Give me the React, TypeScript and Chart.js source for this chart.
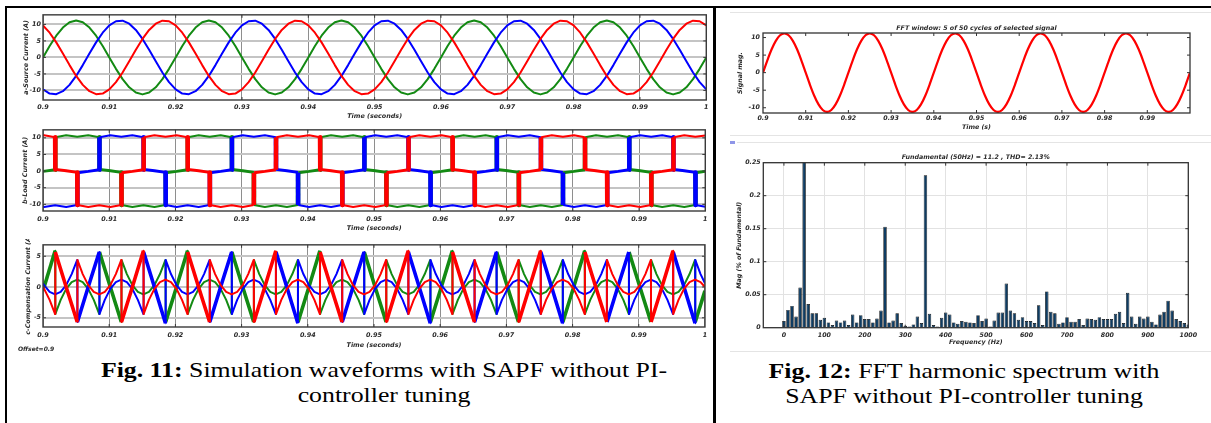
import React, { useEffect, useRef } from 'react';
import { Chart, registerables } from 'chart.js';

Chart.register(...registerables);

// ---------------- data ----------------
// Fig. 11(a) source currents, sampled every 1 ms
const sourceTime = [
  0.9, 0.901, 0.902, 0.903, 0.904, 0.905, 0.906, 0.907, 0.908, 0.909,
  0.91, 0.911, 0.912, 0.913, 0.914, 0.915, 0.916, 0.917, 0.918, 0.919,
  0.92, 0.921, 0.922, 0.923, 0.924, 0.925, 0.926, 0.927, 0.928, 0.929,
  0.93, 0.931, 0.932, 0.933, 0.934, 0.935, 0.936, 0.937, 0.938, 0.939,
  0.94, 0.941, 0.942, 0.943, 0.944, 0.945, 0.946, 0.947, 0.948, 0.949,
  0.95, 0.951, 0.952, 0.953, 0.954, 0.955, 0.956, 0.957, 0.958, 0.959,
  0.96, 0.961, 0.962, 0.963, 0.964, 0.965, 0.966, 0.967, 0.968, 0.969,
  0.97, 0.971, 0.972, 0.973, 0.974, 0.975, 0.976, 0.977, 0.978, 0.979,
  0.98, 0.981, 0.982, 0.983, 0.984, 0.985, 0.986, 0.987, 0.988, 0.989,
  0.99, 0.991, 0.992, 0.993, 0.994, 0.995, 0.996, 0.997, 0.998, 0.999, 1,
];
const sourceGreen = [
  0, 3.46, 6.58, 9.06, 10.65, 11.2, 10.65, 9.06, 6.58, 3.46, 0, -3.46, -6.58, -9.06, -10.65, -11.2, -10.65, -9.06, -6.58, -3.46,
  0, 3.46, 6.58, 9.06, 10.65, 11.2, 10.65, 9.06, 6.58, 3.46, 0, -3.46, -6.58, -9.06, -10.65, -11.2, -10.65, -9.06, -6.58, -3.46,
  0, 3.46, 6.58, 9.06, 10.65, 11.2, 10.65, 9.06, 6.58, 3.46, 0, -3.46, -6.58, -9.06, -10.65, -11.2, -10.65, -9.06, -6.58, -3.46,
  0, 3.46, 6.58, 9.06, 10.65, 11.2, 10.65, 9.06, 6.58, 3.46, 0, -3.46, -6.58, -9.06, -10.65, -11.2, -10.65, -9.06, -6.58, -3.46,
  0, 3.46, 6.58, 9.06, 10.65, 11.2, 10.65, 9.06, 6.58, 3.46, 0, -3.46, -6.58, -9.06, -10.65, -11.2, -10.65, -9.06, -6.58, -3.46,
  0,
];
const sourceBlue = [
  -9.7, -10.96, -11.14, -10.23, -8.32, -5.6, -2.33, 1.17, 4.56, 7.49, 9.7, 10.96, 11.14, 10.23, 8.32, 5.6, 2.33, -1.17, -4.56, -7.49,
  -9.7, -10.96, -11.14, -10.23, -8.32, -5.6, -2.33, 1.17, 4.56, 7.49, 9.7, 10.96, 11.14, 10.23, 8.32, 5.6, 2.33, -1.17, -4.56, -7.49,
  -9.7, -10.96, -11.14, -10.23, -8.32, -5.6, -2.33, 1.17, 4.56, 7.49, 9.7, 10.96, 11.14, 10.23, 8.32, 5.6, 2.33, -1.17, -4.56, -7.49,
  -9.7, -10.96, -11.14, -10.23, -8.32, -5.6, -2.33, 1.17, 4.56, 7.49, 9.7, 10.96, 11.14, 10.23, 8.32, 5.6, 2.33, -1.17, -4.56, -7.49,
  -9.7, -10.96, -11.14, -10.23, -8.32, -5.6, -2.33, 1.17, 4.56, 7.49, 9.7, 10.96, 11.14, 10.23, 8.32, 5.6, 2.33, -1.17, -4.56, -7.49,
  -9.7,
];
const sourceRed = [
  9.7, 7.49, 4.56, 1.17, -2.33, -5.6, -8.32, -10.23, -11.14, -10.96, -9.7, -7.49, -4.56, -1.17, 2.33, 5.6, 8.32, 10.23, 11.14, 10.96,
  9.7, 7.49, 4.56, 1.17, -2.33, -5.6, -8.32, -10.23, -11.14, -10.96, -9.7, -7.49, -4.56, -1.17, 2.33, 5.6, 8.32, 10.23, 11.14, 10.96,
  9.7, 7.49, 4.56, 1.17, -2.33, -5.6, -8.32, -10.23, -11.14, -10.96, -9.7, -7.49, -4.56, -1.17, 2.33, 5.6, 8.32, 10.23, 11.14, 10.96,
  9.7, 7.49, 4.56, 1.17, -2.33, -5.6, -8.32, -10.23, -11.14, -10.96, -9.7, -7.49, -4.56, -1.17, 2.33, 5.6, 8.32, 10.23, 11.14, 10.96,
  9.7, 7.49, 4.56, 1.17, -2.33, -5.6, -8.32, -10.23, -11.14, -10.96, -9.7, -7.49, -4.56, -1.17, 2.33, 5.6, 8.32, 10.23, 11.14, 10.96,
  9.7,
];

// Fig. 11(b) load currents  [time, current]
const loadRed: [number, number][] = [
  [0.9, 10.7], [0.90017, 10.8], [0.90183, 10.2], [0.90186, 0.5], [0.9035, 0.1], [0.90517, -0.4],
  [0.9052, -10.2], [0.90683, -10.8], [0.9085, -10.3], [0.91017, -10.8], [0.91183, -10.2], [0.91186, -0.5], [0.9135, -0.1], [0.91517, 0.4],
  [0.9152, 10.2], [0.91683, 10.8], [0.9185, 10.3], [0.92017, 10.8], [0.92183, 10.2], [0.92186, 0.5], [0.9235, 0.1], [0.92517, -0.4],
  [0.9252, -10.2], [0.92683, -10.8], [0.9285, -10.3], [0.93017, -10.8], [0.93183, -10.2], [0.93186, -0.5], [0.9335, -0.1], [0.93517, 0.4],
  [0.9352, 10.2], [0.93683, 10.8], [0.9385, 10.3], [0.94017, 10.8], [0.94183, 10.2], [0.94186, 0.5], [0.9435, 0.1], [0.94517, -0.4],
  [0.9452, -10.2], [0.94683, -10.8], [0.9485, -10.3], [0.95017, -10.8], [0.95183, -10.2], [0.95186, -0.5], [0.9535, -0.1], [0.95517, 0.4],
  [0.9552, 10.2], [0.95683, 10.8], [0.9585, 10.3], [0.96017, 10.8], [0.96183, 10.2], [0.96186, 0.5], [0.9635, 0.1], [0.96517, -0.4],
  [0.9652, -10.2], [0.96683, -10.8], [0.9685, -10.3], [0.97017, -10.8], [0.97183, -10.2], [0.97186, -0.5], [0.9735, -0.1], [0.97517, 0.4],
  [0.9752, 10.2], [0.97683, 10.8], [0.9785, 10.3], [0.98017, 10.8], [0.98183, 10.2], [0.98186, 0.5], [0.9835, 0.1], [0.98517, -0.4],
  [0.9852, -10.2], [0.98683, -10.8], [0.9885, -10.3], [0.99017, -10.8], [0.99183, -10.2], [0.99186, -0.5], [0.9935, -0.1], [0.99517, 0.4],
  [0.9952, 10.2], [0.99683, 10.8], [0.9985, 10.3], [1, 10.7],
];
const loadGreen: [number, number][] = [
  [0.9, -0.1], [0.90183, 0.4],
  [0.90186, 10.2], [0.9035, 10.8], [0.90517, 10.3], [0.90683, 10.8], [0.9085, 10.2], [0.90853, 0.5], [0.91017, 0.1], [0.91183, -0.4],
  [0.91186, -10.2], [0.9135, -10.8], [0.91517, -10.3], [0.91683, -10.8], [0.9185, -10.2], [0.91853, -0.5], [0.92017, -0.1], [0.92183, 0.4],
  [0.92186, 10.2], [0.9235, 10.8], [0.92517, 10.3], [0.92683, 10.8], [0.9285, 10.2], [0.92853, 0.5], [0.93017, 0.1], [0.93183, -0.4],
  [0.93186, -10.2], [0.9335, -10.8], [0.93517, -10.3], [0.93683, -10.8], [0.9385, -10.2], [0.93853, -0.5], [0.94017, -0.1], [0.94183, 0.4],
  [0.94186, 10.2], [0.9435, 10.8], [0.94517, 10.3], [0.94683, 10.8], [0.9485, 10.2], [0.94853, 0.5], [0.95017, 0.1], [0.95183, -0.4],
  [0.95186, -10.2], [0.9535, -10.8], [0.95517, -10.3], [0.95683, -10.8], [0.9585, -10.2], [0.95853, -0.5], [0.96017, -0.1], [0.96183, 0.4],
  [0.96186, 10.2], [0.9635, 10.8], [0.96517, 10.3], [0.96683, 10.8], [0.9685, 10.2], [0.96853, 0.5], [0.97017, 0.1], [0.97183, -0.4],
  [0.97186, -10.2], [0.9735, -10.8], [0.97517, -10.3], [0.97683, -10.8], [0.9785, -10.2], [0.97853, -0.5], [0.98017, -0.1], [0.98183, 0.4],
  [0.98186, 10.2], [0.9835, 10.8], [0.98517, 10.3], [0.98683, 10.8], [0.9885, 10.2], [0.98853, 0.5], [0.99017, 0.1], [0.99183, -0.4],
  [0.99186, -10.2], [0.9935, -10.8], [0.99517, -10.3], [0.99683, -10.8], [0.9985, -10.2], [0.99853, -0.5], [1, -0.1],
];
const loadBlue: [number, number][] = [
  [0.9, -10.7], [0.90017, -10.8], [0.90183, -10.3], [0.9035, -10.8], [0.90517, -10.2], [0.9052, -0.5], [0.90683, -0.1], [0.9085, 0.4],
  [0.90853, 10.2], [0.91017, 10.8], [0.91183, 10.3], [0.9135, 10.8], [0.91517, 10.2], [0.9152, 0.5], [0.91683, 0.1], [0.9185, -0.4],
  [0.91853, -10.2], [0.92017, -10.8], [0.92183, -10.3], [0.9235, -10.8], [0.92517, -10.2], [0.9252, -0.5], [0.92683, -0.1], [0.9285, 0.4],
  [0.92853, 10.2], [0.93017, 10.8], [0.93183, 10.3], [0.9335, 10.8], [0.93517, 10.2], [0.9352, 0.5], [0.93683, 0.1], [0.9385, -0.4],
  [0.93853, -10.2], [0.94017, -10.8], [0.94183, -10.3], [0.9435, -10.8], [0.94517, -10.2], [0.9452, -0.5], [0.94683, -0.1], [0.9485, 0.4],
  [0.94853, 10.2], [0.95017, 10.8], [0.95183, 10.3], [0.9535, 10.8], [0.95517, 10.2], [0.9552, 0.5], [0.95683, 0.1], [0.9585, -0.4],
  [0.95853, -10.2], [0.96017, -10.8], [0.96183, -10.3], [0.9635, -10.8], [0.96517, -10.2], [0.9652, -0.5], [0.96683, -0.1], [0.9685, 0.4],
  [0.96853, 10.2], [0.97017, 10.8], [0.97183, 10.3], [0.9735, 10.8], [0.97517, 10.2], [0.9752, 0.5], [0.97683, 0.1], [0.9785, -0.4],
  [0.97853, -10.2], [0.98017, -10.8], [0.98183, -10.3], [0.9835, -10.8], [0.98517, -10.2], [0.9852, -0.5], [0.98683, -0.1], [0.9885, 0.4],
  [0.98853, 10.2], [0.99017, 10.8], [0.99183, 10.3], [0.9935, 10.8], [0.99517, 10.2], [0.9952, 0.5], [0.99683, 0.1], [0.9985, -0.4],
  [0.99853, -10.2], [1, -10.7],
];

// Fig. 11(c) compensation currents  [time, current]
const compRed: [number, number][] = [
  [0.9, 0], [0.90017, -0.3], [0.901, -2.1],
  [0.90183, -4.4], [0.90186, 5.7], [0.9035, 0], [0.90517, -5.7], [0.9052, 4.4], [0.906, 2.1], [0.90683, 0.3], [0.90767, -0.8], [0.9085, -1.2], [0.90933, -0.8], [0.91017, 0.3], [0.911, 2.1], [0.91183, 4.4], [0.91186, -5.7], [0.9135, 0], [0.91517, 5.9], [0.9152, -4.4], [0.916, -2.1], [0.91683, -0.3], [0.91767, 0.8], [0.9185, 1.2], [0.91933, 0.8], [0.92017, -0.3], [0.921, -2.1],
  [0.92183, -4.4], [0.92186, 5.7], [0.9235, 0], [0.92517, -5.7], [0.9252, 4.4], [0.926, 2.1], [0.92683, 0.3], [0.92767, -0.8], [0.9285, -1.2], [0.92933, -0.8], [0.93017, 0.3], [0.931, 2.1], [0.93183, 4.4], [0.93186, -5.7], [0.9335, 0], [0.93517, 5.9], [0.9352, -4.4], [0.936, -2.1], [0.93683, -0.3], [0.93767, 0.8], [0.9385, 1.2], [0.93933, 0.8], [0.94017, -0.3], [0.941, -2.1],
  [0.94183, -4.4], [0.94186, 5.7], [0.9435, 0], [0.94517, -5.7], [0.9452, 4.4], [0.946, 2.1], [0.94683, 0.3], [0.94767, -0.8], [0.9485, -1.2], [0.94933, -0.8], [0.95017, 0.3], [0.951, 2.1], [0.95183, 4.4], [0.95186, -5.7], [0.9535, 0], [0.95517, 5.9], [0.9552, -4.4], [0.956, -2.1], [0.95683, -0.3], [0.95767, 0.8], [0.9585, 1.2], [0.95933, 0.8], [0.96017, -0.3], [0.961, -2.1],
  [0.96183, -4.4], [0.96186, 5.7], [0.9635, 0], [0.96517, -5.7], [0.9652, 4.4], [0.966, 2.1], [0.96683, 0.3], [0.96767, -0.8], [0.9685, -1.2], [0.96933, -0.8], [0.97017, 0.3], [0.971, 2.1], [0.97183, 4.4], [0.97186, -5.7], [0.9735, 0], [0.97517, 5.9], [0.9752, -4.4], [0.976, -2.1], [0.97683, -0.3], [0.97767, 0.8], [0.9785, 1.2], [0.97933, 0.8], [0.98017, -0.3], [0.981, -2.1],
  [0.98183, -4.4], [0.98186, 5.7], [0.9835, 0], [0.98517, -5.7], [0.9852, 4.4], [0.986, 2.1], [0.98683, 0.3], [0.98767, -0.8], [0.9885, -1.2], [0.98933, -0.8], [0.99017, 0.3], [0.991, 2.1], [0.99183, 4.4], [0.99186, -5.7], [0.9935, 0], [0.99517, 5.9], [0.9952, -4.4], [0.996, -2.1], [0.99683, -0.3], [0.99767, 0.8], [0.9985, 1.2], [0.99933, 0.8], [1, 0],
];
const compGreen: [number, number][] = [
  [0.9, -0.6], [0.90017, 0],
  [0.90183, 5.9], [0.90186, -4.4], [0.90267, -2.1], [0.9035, -0.3], [0.90433, 0.8], [0.90517, 1.2], [0.906, 0.8], [0.90683, -0.3], [0.90767, -2.1], [0.9085, -4.4], [0.90853, 5.7], [0.91017, 0], [0.91183, -5.7], [0.91186, 4.4], [0.91267, 2.1], [0.9135, 0.3], [0.91433, -0.8], [0.91517, -1.2], [0.916, -0.8], [0.91683, 0.3], [0.91767, 2.1], [0.9185, 4.4], [0.91853, -5.7], [0.92017, 0],
  [0.92183, 5.9], [0.92186, -4.4], [0.92267, -2.1], [0.9235, -0.3], [0.92433, 0.8], [0.92517, 1.2], [0.926, 0.8], [0.92683, -0.3], [0.92767, -2.1], [0.9285, -4.4], [0.92853, 5.7], [0.93017, 0], [0.93183, -5.7], [0.93186, 4.4], [0.93267, 2.1], [0.9335, 0.3], [0.93433, -0.8], [0.93517, -1.2], [0.936, -0.8], [0.93683, 0.3], [0.93767, 2.1], [0.9385, 4.4], [0.93853, -5.7], [0.94017, 0],
  [0.94183, 5.9], [0.94186, -4.4], [0.94267, -2.1], [0.9435, -0.3], [0.94433, 0.8], [0.94517, 1.2], [0.946, 0.8], [0.94683, -0.3], [0.94767, -2.1], [0.9485, -4.4], [0.94853, 5.7], [0.95017, 0], [0.95183, -5.7], [0.95186, 4.4], [0.95267, 2.1], [0.9535, 0.3], [0.95433, -0.8], [0.95517, -1.2], [0.956, -0.8], [0.95683, 0.3], [0.95767, 2.1], [0.9585, 4.4], [0.95853, -5.7], [0.96017, 0],
  [0.96183, 5.9], [0.96186, -4.4], [0.96267, -2.1], [0.9635, -0.3], [0.96433, 0.8], [0.96517, 1.2], [0.966, 0.8], [0.96683, -0.3], [0.96767, -2.1], [0.9685, -4.4], [0.96853, 5.7], [0.97017, 0], [0.97183, -5.7], [0.97186, 4.4], [0.97267, 2.1], [0.9735, 0.3], [0.97433, -0.8], [0.97517, -1.2], [0.976, -0.8], [0.97683, 0.3], [0.97767, 2.1], [0.9785, 4.4], [0.97853, -5.7], [0.98017, 0],
  [0.98183, 5.9], [0.98186, -4.4], [0.98267, -2.1], [0.9835, -0.3], [0.98433, 0.8], [0.98517, 1.2], [0.986, 0.8], [0.98683, -0.3], [0.98767, -2.1], [0.9885, -4.4], [0.98853, 5.7], [0.99017, 0], [0.99183, -5.7], [0.99186, 4.4], [0.99267, 2.1], [0.9935, 0.3], [0.99433, -0.8], [0.99517, -1.2], [0.996, -0.8], [0.99683, 0.3], [0.99767, 2.1], [0.9985, 4.4], [0.99853, -5.7], [1, -0.6],
];
const compBlue: [number, number][] = [
  [0.9, 0.6], [0.90017, 0.3], [0.901, -0.8],
  [0.90183, -1.2], [0.90267, -0.8], [0.9035, 0.3], [0.90433, 2.1], [0.90517, 4.4], [0.9052, -5.7], [0.90683, 0], [0.9085, 5.7], [0.90853, -4.4], [0.90933, -2.1], [0.91017, -0.3], [0.911, 0.8], [0.91183, 1.2], [0.91267, 0.8], [0.9135, -0.3], [0.91433, -2.1], [0.91517, -4.4], [0.9152, 5.7], [0.91683, 0], [0.9185, -5.9], [0.91853, 4.4], [0.91933, 2.1], [0.92017, 0.3], [0.921, -0.8],
  [0.92183, -1.2], [0.92267, -0.8], [0.9235, 0.3], [0.92433, 2.1], [0.92517, 4.4], [0.9252, -5.7], [0.92683, 0], [0.9285, 5.7], [0.92853, -4.4], [0.92933, -2.1], [0.93017, -0.3], [0.931, 0.8], [0.93183, 1.2], [0.93267, 0.8], [0.9335, -0.3], [0.93433, -2.1], [0.93517, -4.4], [0.9352, 5.7], [0.93683, 0], [0.9385, -5.9], [0.93853, 4.4], [0.93933, 2.1], [0.94017, 0.3], [0.941, -0.8],
  [0.94183, -1.2], [0.94267, -0.8], [0.9435, 0.3], [0.94433, 2.1], [0.94517, 4.4], [0.9452, -5.7], [0.94683, 0], [0.9485, 5.7], [0.94853, -4.4], [0.94933, -2.1], [0.95017, -0.3], [0.951, 0.8], [0.95183, 1.2], [0.95267, 0.8], [0.9535, -0.3], [0.95433, -2.1], [0.95517, -4.4], [0.9552, 5.7], [0.95683, 0], [0.9585, -5.9], [0.95853, 4.4], [0.95933, 2.1], [0.96017, 0.3], [0.961, -0.8],
  [0.96183, -1.2], [0.96267, -0.8], [0.9635, 0.3], [0.96433, 2.1], [0.96517, 4.4], [0.9652, -5.7], [0.96683, 0], [0.9685, 5.7], [0.96853, -4.4], [0.96933, -2.1], [0.97017, -0.3], [0.971, 0.8], [0.97183, 1.2], [0.97267, 0.8], [0.9735, -0.3], [0.97433, -2.1], [0.97517, -4.4], [0.9752, 5.7], [0.97683, 0], [0.9785, -5.9], [0.97853, 4.4], [0.97933, 2.1], [0.98017, 0.3], [0.981, -0.8],
  [0.98183, -1.2], [0.98267, -0.8], [0.9835, 0.3], [0.98433, 2.1], [0.98517, 4.4], [0.9852, -5.7], [0.98683, 0], [0.9885, 5.7], [0.98853, -4.4], [0.98933, -2.1], [0.99017, -0.3], [0.991, 0.8], [0.99183, 1.2], [0.99267, 0.8], [0.9935, -0.3], [0.99433, -2.1], [0.99517, -4.4], [0.9952, 5.7], [0.99683, 0], [0.9985, -5.9], [0.99853, 4.4], [0.99933, 2.1], [1, 0.6],
];

// Fig. 12 FFT window signal (selected signal, same samples as the source phase starting at 0)
const fftWindowSignal = sourceGreen;

// Fig. 12 spectrum
const fftFreq = [
  0, 10, 20, 30, 40, 50, 60, 70, 80, 90, 100, 110, 120, 130, 140, 150, 160, 170, 180, 190,
  200, 210, 220, 230, 240, 250, 260, 270, 280, 290, 300, 310, 320, 330, 340, 350, 360, 370, 380, 390,
  400, 410, 420, 430, 440, 450, 460, 470, 480, 490, 500, 510, 520, 530, 540, 550, 560, 570, 580, 590,
  600, 610, 620, 630, 640, 650, 660, 670, 680, 690, 700, 710, 720, 730, 740, 750, 760, 770, 780, 790,
  800, 810, 820, 830, 840, 850, 860, 870, 880, 890, 900, 910, 920, 930, 940, 950, 960, 970, 980, 990, 1000,
];
const fftMag = [
  0.010, 0.027, 0.033, 0.017, 0.061, 100, 0.036, 0.022, 0.022, 0.012,
  0.015, 0.008, 0.004, 0.011, 0.008, 0.011, 0.004, 0.020, 0.008, 0.019,
  0.013, 0.013, 0.008, 0.014, 0.026, 0.153, 0.008, 0.011, 0.022, 0.007,
  0.003, 0.002, 0.005, 0.017, 0.007, 0.231, 0.021, 0.004, 0.002, 0.015,
  0.023, 0.020, 0.008, 0.006, 0.010, 0.009, 0.008, 0.007, 0.019, 0.010,
  0.014, 0.002, 0.011, 0.023, 0.023, 0.067, 0.026, 0.022, 0.012, 0.016,
  0.010, 0.010, 0.007, 0.034, 0.004, 0.055, 0.024, 0.022, 0.006, 0.008,
  0.016, 0.009, 0.009, 0.013, 0.004, 0.014, 0.013, 0.012, 0.016, 0.013,
  0.013, 0.013, 0.021, 0.024, 0.007, 0.053, 0.017, 0.006, 0.017, 0.014,
  0.017, 0.009, 0.005, 0.020, 0.024, 0.041, 0.026, 0.013, 0.010, 0.007,
  0.005,
];

// ---------------- styling helpers ----------------
const FAMILY = "'DejaVu Sans', 'Liberation Sans', sans-serif";
const INK = '#2a2a2a';
const RED = '#ff0000';
const GREEN = '#138a13';
const BLUE = '#0000ff';
const axisFont = (size: number) => ({ family: FAMILY, size, style: 'italic' as const, weight: 'bold' as const });
const fmt = (v: any) => String(Math.round(Number(v) * 1000) / 1000);

function framePlugin(color: string, width: number, tick: number) {
  return {
    id: 'frame',
    afterDatasetsDraw(chart: any) {
      const { ctx, chartArea: a } = chart;
      const xs = chart.scales.x;
      const ys = chart.scales.y;
      ctx.save();
      ctx.strokeStyle = color;
      ctx.lineWidth = 1;
      ctx.beginPath();
      for (const t of xs.ticks) {
        const p = xs.getPixelForValue(t.value);
        if (p <= a.left + 1 || p >= a.right - 1) continue;
        ctx.moveTo(p, a.top);
        ctx.lineTo(p, a.top + tick);
        ctx.moveTo(p, a.bottom);
        ctx.lineTo(p, a.bottom - tick);
      }
      for (const t of ys.ticks) {
        const p = ys.getPixelForValue(t.value);
        if (p <= a.top + 1 || p >= a.bottom - 1) continue;
        ctx.moveTo(a.left, p);
        ctx.lineTo(a.left + tick, p);
        ctx.moveTo(a.right, p);
        ctx.lineTo(a.right - tick, p);
      }
      ctx.stroke();
      ctx.lineWidth = width;
      ctx.strokeRect(a.left, a.top, a.right - a.left, a.bottom - a.top);
      ctx.restore();
    },
  };
}

const toXY = (pairs: [number, number][]) => pairs.map(([x, y]) => ({ x, y }));
const zip = (xs: number[], ys: number[]) => xs.map((x, i) => ({ x, y: ys[i] }));

type ScopeGeo = {
  padTop: number; padRight: number; xHeight: number; yWidth: number;
  tickPad: number; titlePadBottom: number; yTitlePad: number;
};

function scopeConfig(datasets: any[], yMin: number, yMax: number, yTitle: string, g: ScopeGeo): any {
  return {
    type: 'line',
    data: { datasets },
    options: {
      animation: false,
      responsive: false,
      events: [],
      layout: { padding: { left: 0, right: g.padRight, top: g.padTop, bottom: 0 } },
      plugins: { legend: { display: false }, tooltip: { enabled: false } },
      elements: { point: { radius: 0 }, line: { tension: 0, borderJoinStyle: 'round' } },
      scales: {
        x: {
          type: 'linear', min: 0.9, max: 1,
          ticks: { stepSize: 0.01, autoSkip: false, maxRotation: 0, includeBounds: false, padding: g.tickPad, font: axisFont(6.4), color: INK, callback: fmt },
          grid: { color: '#8e8e8e', lineWidth: 1, drawTicks: false },
          border: { display: false },
          title: { display: true, text: 'Time (seconds)', font: axisFont(6.4), color: INK, padding: { top: 0, bottom: g.titlePadBottom } },
          afterFit: (s: any) => { s.height = g.xHeight; },
        },
        y: {
          type: 'linear', min: yMin, max: yMax,
          ticks: { stepSize: 5, includeBounds: false, padding: 2, font: axisFont(6.4), color: INK, callback: fmt },
          grid: { color: '#c4c4c4', lineWidth: 2, drawTicks: false },
          border: { display: false },
          title: { display: true, text: yTitle, font: axisFont(6.4), color: INK, padding: { top: g.yTitlePad, bottom: 0 } },
          afterFit: (s: any) => { s.width = g.yWidth; },
        },
      },
    },
    plugins: [framePlugin('#3a3a3a', 1.4, 3)],
  };
}

const lineDs = (data: any[], color: string, width = 2, extra: any = {}) => ({
  data, borderColor: color, backgroundColor: color, borderWidth: width, pointRadius: 0, fill: false, ...extra,
});

export default function App() {
  const c1 = useRef<HTMLCanvasElement>(null);
  const c2 = useRef<HTMLCanvasElement>(null);
  const c3 = useRef<HTMLCanvasElement>(null);
  const c4 = useRef<HTMLCanvasElement>(null);
  const c5 = useRef<HTMLCanvasElement>(null);

  useEffect(() => {
    const charts: Chart[] = [];

    // (a) source currents
    charts.push(new Chart(c1.current as HTMLCanvasElement, scopeConfig([
      lineDs(zip(sourceTime, sourceRed), RED),
      lineDs(zip(sourceTime, sourceBlue), BLUE),
      lineDs(zip(sourceTime, sourceGreen), GREEN),
    ], -12.9, 12.9, 'a-Source Current (A)',
      { padTop: 3, padRight: 4, xHeight: 24, yWidth: 35, tickPad: 3.5, titlePadBottom: 3.5, yTitlePad: 14.2 })));

    // (b) load currents: commutation edges and zero-current intervals drawn heavier (switching noise)
    const loadSeg = {
      segment: {
        borderWidth: (ctx: any) => {
          const dx = ctx.p1.parsed.x - ctx.p0.parsed.x;
          if (dx < 0.0001) return 4.5;
          if (Math.abs(ctx.p0.parsed.y) < 2 && Math.abs(ctx.p1.parsed.y) < 2) return 2.8;
          return undefined;
        },
      },
    };
    charts.push(new Chart(c2.current as HTMLCanvasElement, scopeConfig([
      lineDs(toXY(loadRed), RED, 2, loadSeg),
      lineDs(toXY(loadBlue), BLUE, 2, loadSeg),
      lineDs(toXY(loadGreen), GREEN, 2, loadSeg),
    ], -12, 12.4, 'b-Load Current (A)',
      { padTop: 3, padRight: 4, xHeight: 25, yWidth: 35, tickPad: 4.5, titlePadBottom: 4.2, yTitlePad: 13.5 })));

    // (c) compensation currents
    const compSeg = { segment: { borderWidth: (ctx: any) => (ctx.p1.parsed.x - ctx.p0.parsed.x > 0.0012 ? 3.6 : undefined) } };
    charts.push(new Chart(c3.current as HTMLCanvasElement, scopeConfig([
      lineDs(toXY(compRed), RED, 2, compSeg),
      lineDs(toXY(compBlue), BLUE, 2, compSeg),
      lineDs(toXY(compGreen), GREEN, 2, compSeg),
    ], -6.5, 6.85, 'c-Compensation Current (A',
      { padTop: 3, padRight: 4, xHeight: 24, yWidth: 35, tickPad: 4.8, titlePadBottom: 2.2, yTitlePad: 16.5 })));

    // Fig. 12 FFT window
    charts.push(new Chart(c4.current as HTMLCanvasElement, {
      type: 'line',
      data: { datasets: [lineDs(zip(sourceTime, fftWindowSignal), RED, 2.2)] },
      options: {
        animation: false, responsive: false, events: [],
        layout: { padding: { left: 0, right: 16, top: 0, bottom: 0 } },
        plugins: { legend: { display: false }, tooltip: { enabled: false } },
        elements: { point: { radius: 0 }, line: { tension: 0.3, borderJoinStyle: 'round' } },
        scales: {
          x: {
            type: 'linear', min: 0.9, max: 1,
            ticks: { stepSize: 0.01, autoSkip: false, maxRotation: 0, includeBounds: false, padding: 1.5, font: axisFont(6.3), color: INK, callback: (v: any) => (Number(v) > 0.9995 ? '' : fmt(v)) },
            grid: { display: false, drawTicks: false },
            border: { display: false },
            title: { display: true, text: 'Time (s)', font: axisFont(6.3), color: INK, padding: { top: 0, bottom: 6.5 } },
            afterFit: (s: any) => { s.height = 25; },
          },
          x2: {
            type: 'linear', position: 'top', min: 0.9, max: 1,
            ticks: { display: false }, grid: { display: false, drawTicks: false }, border: { display: false },
            title: { display: true, text: 'FFT window: 5 of 50 cycles of selected signal', font: axisFont(6.3), color: INK, padding: { top: 10.5, bottom: 0 } },
            afterFit: (s: any) => { s.height = 19; },
          },
          y: {
            type: 'linear', min: -11.5, max: 11.3,
            ticks: { stepSize: 5, includeBounds: false, padding: 3, font: axisFont(6.3), color: INK, callback: fmt },
            grid: { display: false, drawTicks: false },
            border: { display: false },
            title: { display: true, text: 'Signal mag.', font: axisFont(6.3), color: INK, padding: { top: 12.9, bottom: 0 } },
            afterFit: (s: any) => { s.width = 39; },
          },
        },
      },
      plugins: [framePlugin('#333333', 1.3, 3)],
    } as any));

    // Fig. 12 spectrum
    charts.push(new Chart(c5.current as HTMLCanvasElement, {
      type: 'bar',
      data: {
        datasets: [{
          data: zip(fftFreq, fftMag),
          backgroundColor: '#0f3c62', borderColor: '#000000', borderWidth: 0.7,
          barPercentage: 0.86, categoryPercentage: 1, clip: 0,
        }],
      },
      options: {
        animation: false, responsive: false, events: [],
        layout: { padding: { left: 0, right: 17.7, top: 0, bottom: 0 } },
        plugins: { legend: { display: false }, tooltip: { enabled: false } },
        scales: {
          x: {
            type: 'linear', min: -51, max: 1000, offset: false,
            ticks: { stepSize: 100, autoSkip: false, maxRotation: 0, includeBounds: false, padding: 3.5, font: axisFont(6.3), color: INK, callback: fmt },
            grid: { color: '#e2e2e2', lineWidth: 1, drawTicks: false, offset: false },
            border: { display: false },
            title: { display: true, text: 'Frequency (Hz)', font: axisFont(6.3), color: INK, padding: { top: 0, bottom: 3.5 } },
            afterFit: (s: any) => { s.height = 22.3; },
          },
          x2: {
            type: 'linear', position: 'top', min: -51, max: 1000,
            ticks: { display: false }, grid: { display: false, drawTicks: false }, border: { display: false },
            title: { display: true, text: 'Fundamental (50Hz) = 11.2 , THD= 2.13%', font: axisFont(6.3), color: INK, padding: { top: 7.5, bottom: 0 } },
            afterFit: (s: any) => { s.height = 16.7; },
          },
          y: {
            type: 'linear', min: 0, max: 0.25,
            ticks: { stepSize: 0.05, includeBounds: false, padding: 2.6, font: axisFont(6.3), color: INK, callback: fmt },
            grid: { color: '#e2e2e2', lineWidth: 1, drawTicks: false },
            border: { display: false },
            title: { display: true, text: 'Mag (% of Fundamental)', font: axisFont(6.3), color: INK, padding: { top: 11.2, bottom: 0 } },
            afterFit: (s: any) => { s.width = 39.3; },
          },
        },
      },
      plugins: [framePlugin('#333333', 1.3, 3)],
    } as any));

    return () => charts.forEach((c) => c.destroy());
  }, []);

  const abs = (l: number, t: number, w: number, h: number, extra: React.CSSProperties = {}): React.CSSProperties => ({
    position: 'absolute', left: l, top: t, width: w, height: h, ...extra,
  });
  const captionLine = (cx: number, cy: number, content: React.ReactNode) => (
    <div style={{
      position: 'absolute', left: cx - 400, top: cy - 12.5, width: 800, height: 25, lineHeight: '25px',
      textAlign: 'center', fontFamily: "'Liberation Serif', 'Times New Roman', serif", fontSize: 21.5,
      color: '#000', whiteSpace: 'nowrap', transform: 'scaleX(1.2)', transformOrigin: 'center',
    }}>{content}</div>
  );

  return (
    <div style={abs(0, 0, 1211, 423, { background: '#ffffff', overflow: 'hidden' })}>
      <canvas ref={c1} width={704} height={115} style={abs(8, 9, 704, 115)} />
      <canvas ref={c2} width={704} height={112} style={abs(8, 124, 704, 112)} />
      <canvas ref={c3} width={704} height={112} style={abs(8, 239, 704, 112)} />
      <canvas ref={c4} width={482} height={124} style={abs(724, 14, 482, 124)} />
      <canvas ref={c5} width={482} height={204} style={abs(724, 146, 482, 204)} />

      <div style={abs(18, 343.5, 80, 9, { fontFamily: FAMILY, fontSize: 6, fontStyle: 'italic', fontWeight: 'bold', color: INK, lineHeight: '9px', whiteSpace: 'nowrap' })}>Offset=0.9</div>

      {/* table borders */}
      <div style={abs(5, 6, 1206, 2, { background: '#000' })} />
      <div style={abs(5, 6, 2, 417, { background: '#000' })} />
      <div style={abs(713, 6, 3, 417, { background: '#000' })} />

      {/* light separators in the right panel */}
      <div style={abs(730, 12, 481, 1, { background: '#e4e4e4' })} />
      <div style={abs(730, 135, 481, 1, { background: '#e4e4e4' })} />
      <div style={abs(737, 142, 474, 1, { background: '#e4e4e4' })} />
      <div style={abs(730, 351, 481, 1, { background: '#e4e4e4' })} />
      <div style={abs(730, 141, 5, 3, { background: '#8f96e8' })} />

      {captionLine(383.5, 370, <><b>Fig. 11:</b> Simulation waveforms with SAPF without PI-</>)}
      {captionLine(383.5, 395, <>controller tuning</>)}
      {captionLine(964, 371.7, <><b>Fig. 12:</b> FFT harmonic spectrum with</>)}
      {captionLine(964, 396.7, <>SAPF without PI-controller tuning</>)}
    </div>
  );
}
